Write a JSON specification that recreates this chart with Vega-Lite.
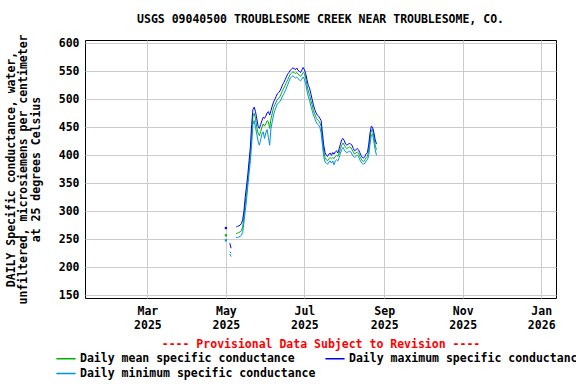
{
  "$schema": "https://vega.github.io/schema/vega-lite/v6.json",
  "width": 471,
  "height": 258,
  "autosize": {"type": "none"},
  "padding": {"left": 85, "top": 40, "right": 20, "bottom": 86},
  "background": "white",
  "title": {
    "text": "USGS 09040500 TROUBLESOME CREEK NEAR TROUBLESOME, CO.",
    "anchor": "middle",
    "frame": "group",
    "offset": 8,
    "font": "DejaVu Sans Mono",
    "fontSize": 11.5,
    "fontWeight": "bold",
    "color": "black"
  },
  "config": {
    "view": {"stroke": "black", "strokeWidth": 1},
    "font": "DejaVu Sans Mono"
  },
  "data": {
    "values": [
      {"date": "2025-05-01", "max": 270, "mean": 257, "min": 248},
      {"date": "2025-05-02", "max": null, "mean": null, "min": null},
      {"date": "2025-05-03", "max": null, "mean": null, "min": null},
      {"date": "2025-05-04", "max": 243, "mean": 228, "min": 224},
      {"date": "2025-05-05", "max": 234, "mean": 225, "min": 219},
      {"date": "2025-05-06", "max": null, "mean": null, "min": null},
      {"date": "2025-05-07", "max": null, "mean": null, "min": null},
      {"date": "2025-05-08", "max": null, "mean": null, "min": null},
      {"date": "2025-05-09", "max": 272, "mean": 260, "min": 253},
      {"date": "2025-05-10", "max": 273, "mean": 261, "min": 253},
      {"date": "2025-05-11", "max": 274, "mean": 262, "min": 254},
      {"date": "2025-05-12", "max": 275, "mean": 263, "min": 255},
      {"date": "2025-05-13", "max": 278, "mean": 265, "min": 257},
      {"date": "2025-05-14", "max": 285, "mean": 272, "min": 262},
      {"date": "2025-05-15", "max": 300, "mean": 290, "min": 280},
      {"date": "2025-05-16", "max": 325, "mean": 312, "min": 300},
      {"date": "2025-05-17", "max": 345, "mean": 332, "min": 320},
      {"date": "2025-05-18", "max": 365, "mean": 355, "min": 345},
      {"date": "2025-05-19", "max": 390, "mean": 378, "min": 368},
      {"date": "2025-05-20", "max": 415, "mean": 400, "min": 390},
      {"date": "2025-05-21", "max": 455, "mean": 435, "min": 420},
      {"date": "2025-05-22", "max": 482, "mean": 470, "min": 455},
      {"date": "2025-05-23", "max": 486, "mean": 475, "min": 462},
      {"date": "2025-05-24", "max": 478, "mean": 465, "min": 450},
      {"date": "2025-05-25", "max": 465, "mean": 450, "min": 438},
      {"date": "2025-05-26", "max": 452, "mean": 440, "min": 425},
      {"date": "2025-05-27", "max": 448, "mean": 435, "min": 418},
      {"date": "2025-05-28", "max": 455, "mean": 442, "min": 428},
      {"date": "2025-05-29", "max": 462, "mean": 450, "min": 438},
      {"date": "2025-05-30", "max": 468, "mean": 456, "min": 442},
      {"date": "2025-05-31", "max": 466, "mean": 452, "min": 430},
      {"date": "2025-06-01", "max": 470, "mean": 456, "min": 440},
      {"date": "2025-06-02", "max": 476, "mean": 462, "min": 446},
      {"date": "2025-06-03", "max": 478, "mean": 460, "min": 432},
      {"date": "2025-06-04", "max": 472, "mean": 448, "min": 418},
      {"date": "2025-06-05", "max": 480, "mean": 465, "min": 448},
      {"date": "2025-06-06", "max": 488, "mean": 475, "min": 460},
      {"date": "2025-06-07", "max": 495, "mean": 485, "min": 472},
      {"date": "2025-06-08", "max": 500, "mean": 490, "min": 480},
      {"date": "2025-06-09", "max": 505, "mean": 495, "min": 486},
      {"date": "2025-06-10", "max": 510, "mean": 500, "min": 492},
      {"date": "2025-06-11", "max": 512, "mean": 502, "min": 494},
      {"date": "2025-06-12", "max": 515, "mean": 505, "min": 496},
      {"date": "2025-06-13", "max": 520, "mean": 510, "min": 500},
      {"date": "2025-06-14", "max": 526, "mean": 516, "min": 506},
      {"date": "2025-06-15", "max": 530, "mean": 520, "min": 510},
      {"date": "2025-06-16", "max": 535, "mean": 525, "min": 515},
      {"date": "2025-06-17", "max": 540, "mean": 530, "min": 520},
      {"date": "2025-06-18", "max": 545, "mean": 535, "min": 526},
      {"date": "2025-06-19", "max": 548, "mean": 540, "min": 532},
      {"date": "2025-06-20", "max": 552, "mean": 545, "min": 538},
      {"date": "2025-06-21", "max": 554, "mean": 547, "min": 540},
      {"date": "2025-06-22", "max": 556, "mean": 549, "min": 542},
      {"date": "2025-06-23", "max": 555, "mean": 548, "min": 540},
      {"date": "2025-06-24", "max": 553, "mean": 546, "min": 538},
      {"date": "2025-06-25", "max": 556, "mean": 548, "min": 540},
      {"date": "2025-06-26", "max": 552, "mean": 545, "min": 537},
      {"date": "2025-06-27", "max": 550, "mean": 543, "min": 535},
      {"date": "2025-06-28", "max": 548, "mean": 541, "min": 533},
      {"date": "2025-06-29", "max": 552, "mean": 544, "min": 536},
      {"date": "2025-06-30", "max": 557, "mean": 548, "min": 540},
      {"date": "2025-07-01", "max": 553, "mean": 546, "min": 536},
      {"date": "2025-07-02", "max": 546, "mean": 538, "min": 528},
      {"date": "2025-07-03", "max": 535, "mean": 525, "min": 515},
      {"date": "2025-07-04", "max": 525, "mean": 515, "min": 505},
      {"date": "2025-07-05", "max": 520, "mean": 508, "min": 498},
      {"date": "2025-07-06", "max": 510, "mean": 498, "min": 488},
      {"date": "2025-07-07", "max": 500, "mean": 490, "min": 480},
      {"date": "2025-07-08", "max": 490, "mean": 480, "min": 472},
      {"date": "2025-07-09", "max": 482, "mean": 474, "min": 466},
      {"date": "2025-07-10", "max": 476, "mean": 468, "min": 460},
      {"date": "2025-07-11", "max": 472, "mean": 464, "min": 456},
      {"date": "2025-07-12", "max": 470, "mean": 462, "min": 454},
      {"date": "2025-07-13", "max": 466, "mean": 458, "min": 450},
      {"date": "2025-07-14", "max": 462, "mean": 452, "min": 440},
      {"date": "2025-07-15", "max": 440, "mean": 428, "min": 418},
      {"date": "2025-07-16", "max": 418, "mean": 408, "min": 398},
      {"date": "2025-07-17", "max": 405, "mean": 396, "min": 388},
      {"date": "2025-07-18", "max": 400, "mean": 392, "min": 386},
      {"date": "2025-07-19", "max": 398, "mean": 390, "min": 384},
      {"date": "2025-07-20", "max": 402, "mean": 394, "min": 388},
      {"date": "2025-07-21", "max": 404, "mean": 396, "min": 390},
      {"date": "2025-07-22", "max": 400, "mean": 394, "min": 386},
      {"date": "2025-07-23", "max": 405, "mean": 396, "min": 390},
      {"date": "2025-07-24", "max": 402, "mean": 394, "min": 383},
      {"date": "2025-07-25", "max": 406, "mean": 398, "min": 390},
      {"date": "2025-07-26", "max": 408, "mean": 400, "min": 392},
      {"date": "2025-07-27", "max": 404, "mean": 398, "min": 390},
      {"date": "2025-07-28", "max": 412, "mean": 404, "min": 396},
      {"date": "2025-07-29", "max": 420, "mean": 412, "min": 404},
      {"date": "2025-07-30", "max": 428, "mean": 418, "min": 410},
      {"date": "2025-07-31", "max": 430, "mean": 422, "min": 414},
      {"date": "2025-08-01", "max": 426, "mean": 418, "min": 410},
      {"date": "2025-08-02", "max": 420, "mean": 414, "min": 406},
      {"date": "2025-08-03", "max": 418, "mean": 412, "min": 405},
      {"date": "2025-08-04", "max": 420, "mean": 414, "min": 406},
      {"date": "2025-08-05", "max": 421, "mean": 415, "min": 407},
      {"date": "2025-08-06", "max": 420, "mean": 414, "min": 406},
      {"date": "2025-08-07", "max": 418, "mean": 410, "min": 402},
      {"date": "2025-08-08", "max": 412, "mean": 406, "min": 398},
      {"date": "2025-08-09", "max": 408, "mean": 402, "min": 396},
      {"date": "2025-08-10", "max": 410, "mean": 404, "min": 398},
      {"date": "2025-08-11", "max": 412, "mean": 406, "min": 400},
      {"date": "2025-08-12", "max": 410, "mean": 404, "min": 398},
      {"date": "2025-08-13", "max": 405, "mean": 398, "min": 392},
      {"date": "2025-08-14", "max": 400, "mean": 394, "min": 388},
      {"date": "2025-08-15", "max": 396, "mean": 390, "min": 385},
      {"date": "2025-08-16", "max": 395, "mean": 389, "min": 384},
      {"date": "2025-08-17", "max": 398, "mean": 392, "min": 386},
      {"date": "2025-08-18", "max": 403, "mean": 396, "min": 390},
      {"date": "2025-08-19", "max": 405, "mean": 398, "min": 392},
      {"date": "2025-08-20", "max": 420, "mean": 410, "min": 400},
      {"date": "2025-08-21", "max": 440, "mean": 430, "min": 420},
      {"date": "2025-08-22", "max": 452, "mean": 445, "min": 436},
      {"date": "2025-08-23", "max": 450, "mean": 446, "min": 438},
      {"date": "2025-08-24", "max": 440, "mean": 432, "min": 424},
      {"date": "2025-08-25", "max": 428, "mean": 418, "min": 410},
      {"date": "2025-08-26", "max": 420, "mean": 410, "min": 400}
    ]
  },
  "transform": [
    {"fold": ["mean", "max", "min"], "as": ["series", "value"]}
  ],
  "encoding": {
    "x": {
      "field": "date",
      "type": "temporal",
      "scale": {
        "type": "utc",
        "domain": [
          {"year": 2025, "month": 1, "date": 11, "hours": 12, "utc": true},
          {"year": 2026, "month": 1, "date": 12, "hours": 12, "utc": true}
        ]
      },
      "axis": {
        "title": null,
        "values": [
          {"year": 2025, "month": 3, "date": 1, "utc": true},
          {"year": 2025, "month": 5, "date": 1, "utc": true},
          {"year": 2025, "month": 7, "date": 1, "utc": true},
          {"year": 2025, "month": 9, "date": 1, "utc": true},
          {"year": 2025, "month": 11, "date": 1, "utc": true},
          {"year": 2026, "month": 1, "date": 1, "utc": true}
        ],
        "labelExpr": "[utcFormat(datum.value, '%b'), utcFormat(datum.value, '%Y')]",
        "labelLineHeight": 14,
        "labelFont": "DejaVu Sans Mono",
        "labelFontSize": 11.5,
        "labelFontWeight": "bold",
        "labelColor": "black",
        "labelPadding": 7,
        "labelBaseline": "top",
        "labelFlush": false,
        "labelOverlap": false,
        "ticks": false,
        "domain": false,
        "grid": true,
        "gridColor": "#cccccc",
        "gridWidth": 1
      }
    },
    "y": {
      "field": "value",
      "type": "quantitative",
      "scale": {"domain": [145, 606], "nice": false, "zero": false},
      "axis": {
        "title": ["DAILY Specific conductance, water,", "unfiltered, microsiemens per centimeter", "at 25 degrees Celsius"],
        "titleFont": "DejaVu Sans Mono",
        "titleFontSize": 11.5,
        "titleFontWeight": "bold",
        "titleColor": "black",
        "titleLineHeight": 12.5,
        "titleAngle": -90,
        "titleBaseline": "top",
        "titleAlign": "center",
        "titleX": -80,
        "titleY": 129,
        "values": [150, 200, 250, 300, 350, 400, 450, 500, 550, 600],
        "labelFont": "DejaVu Sans Mono",
        "labelFontSize": 11.5,
        "labelFontWeight": "bold",
        "labelColor": "black",
        "labelPadding": 6,
        "ticks": false,
        "domain": false,
        "grid": true,
        "gridColor": "#cccccc",
        "gridWidth": 1
      }
    },
    "color": {
      "field": "series",
      "type": "nominal",
      "scale": {"domain": ["mean", "max", "min"], "range": ["#00b000", "#0000ff", "#0090e0"]},
      "legend": {
        "orient": "none",
        "legendX": -28,
        "legendY": 299,
        "direction": "horizontal",
        "columns": 2,
        "columnPadding": 6,
        "rowPadding": 0,
        "padding": 0,
        "title": "---- Provisional Data Subject to Revision ----",
        "titleLimit": 800,
        "titleColor": "#ff0000",
        "titleFont": "DejaVu Sans Mono",
        "titleFontSize": 11.5,
        "titleFontWeight": "bold",
        "titleAnchor": "middle",
        "titlePadding": -1,
        "labelExpr": "datum.label == 'mean' ? 'Daily mean specific conductance' : datum.label == 'max' ? 'Daily maximum specific conductance' : 'Daily minimum specific conductance'",
        "labelFont": "DejaVu Sans Mono",
        "labelFontSize": 11.5,
        "labelFontWeight": "bold",
        "labelColor": "black",
        "labelLimit": 400,
        "labelOffset": 5,
        "symbolType": "M-1.2,0H1.2",
        "symbolSize": 256,
        "symbolStrokeWidth": 1.5
      }
    }
  },
  "layer": [
    {"mark": {"type": "line", "strokeWidth": 1, "clip": true}},
    {
      "transform": [{"filter": "time(datum.date) == utc(2025, 4, 1)"}],
      "mark": {"type": "square", "size": 5, "filled": true, "opacity": 1}
    }
  ]
}
